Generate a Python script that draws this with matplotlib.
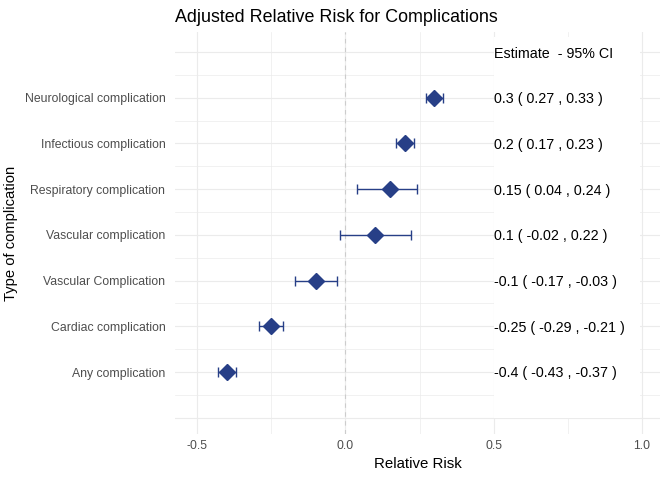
import matplotlib
matplotlib.use("Agg")
import matplotlib.pyplot as plt
from matplotlib.patches import Rectangle

plt.rcParams['font.family'] = ['Liberation Sans', 'DejaVu Sans']

categories = ["Any complication", "Cardiac complication", "Vascular Complication",
              "Vascular complication", "Respiratory complication",
              "Infectious complication", "Neurological complication"]
estimate = [-0.4, -0.25, -0.1, 0.1, 0.15, 0.2, 0.3]
lower = [-0.43, -0.29, -0.17, -0.02, 0.04, 0.17, 0.27]
upper = [-0.37, -0.21, -0.03, 0.22, 0.24, 0.23, 0.33]
header = "Estimate  - 95% CI"
x_ticks = [-0.5, 0.0, 0.5, 1.0]
x_tick_labels = ["-0.5", "0.0", "0.5", "1.0"]

color = "#273F87"
grid_c = "#EBEBEB"

fig = plt.figure(figsize=(6.72, 4.8), dpi=100)
ax = fig.add_axes([175/672, 1-434/480, (660-175)/672, (434-32)/480])

ypos = list(range(1, len(categories) + 1))

ax.set_xlim(-0.575, 1.061)
ax.set_ylim(-0.356, 8.4375)

# grid
for x in [-0.5, 0.0, 0.5, 1.0]:
    ax.axvline(x, color=grid_c, lw=0.85, zorder=0)
for x in [-0.25, 0.25, 0.75]:
    ax.axvline(x, color=grid_c, lw=0.5, zorder=0)
for y in range(0, 9):
    ax.axhline(y, color=grid_c, lw=0.85, zorder=0)
for y in [0.5 + i for i in range(-1, 9)]:
    ax.axhline(y, color=grid_c, lw=0.5, zorder=0)

# white box behind the estimates text
ax.add_patch(Rectangle((0.5, 0.0), 0.495, 8.33, facecolor="white", edgecolor="none", zorder=1))

ax.axvline(0, color="#CCCCCC", lw=0.8, ls=(0, (4, 4)), zorder=1.5)

xerr = [[e - l for e, l in zip(estimate, lower)], [u - e for e, u in zip(estimate, upper)]]
ax.errorbar(estimate, ypos, xerr=xerr, fmt='none', ecolor=color, elinewidth=1.0,
            capsize=3.8, capthick=1.0, zorder=3)
ax.plot(estimate, ypos, ls='none', marker='D', ms=8.6, color=color, mec=color, zorder=4)

for y, e, l, u in zip(ypos, estimate, lower, upper):
    ax.text(0.5, y - 0.03, f"{e:g} ( {l:g} , {u:g} )", ha='left', va='center', fontsize=10.3,
            color='black', zorder=5)
ax.text(0.5, 8 - 0.05, header, ha='left', va='center', fontsize=10.3, color='black', zorder=5)

ax.set_xticks(x_ticks)
ax.set_xticklabels(x_tick_labels)
ax.set_yticks(ypos)
ax.set_yticklabels(categories)
ax.tick_params(axis='both', length=0, labelsize=8.8, labelcolor="#4D4D4D")
ax.tick_params(axis='y', pad=7)
ax.tick_params(axis='x', pad=4)
for s in ax.spines.values():
    s.set_visible(False)

ax.set_xlabel("Relative Risk", fontsize=10.8, labelpad=4)
ax.set_ylabel("Type of complication", fontsize=10.6, labelpad=5)
ax.set_title("Adjusted Relative Risk for Complications", fontsize=12.85, loc='left', pad=7)

fig.savefig("out.png", dpi=100)
